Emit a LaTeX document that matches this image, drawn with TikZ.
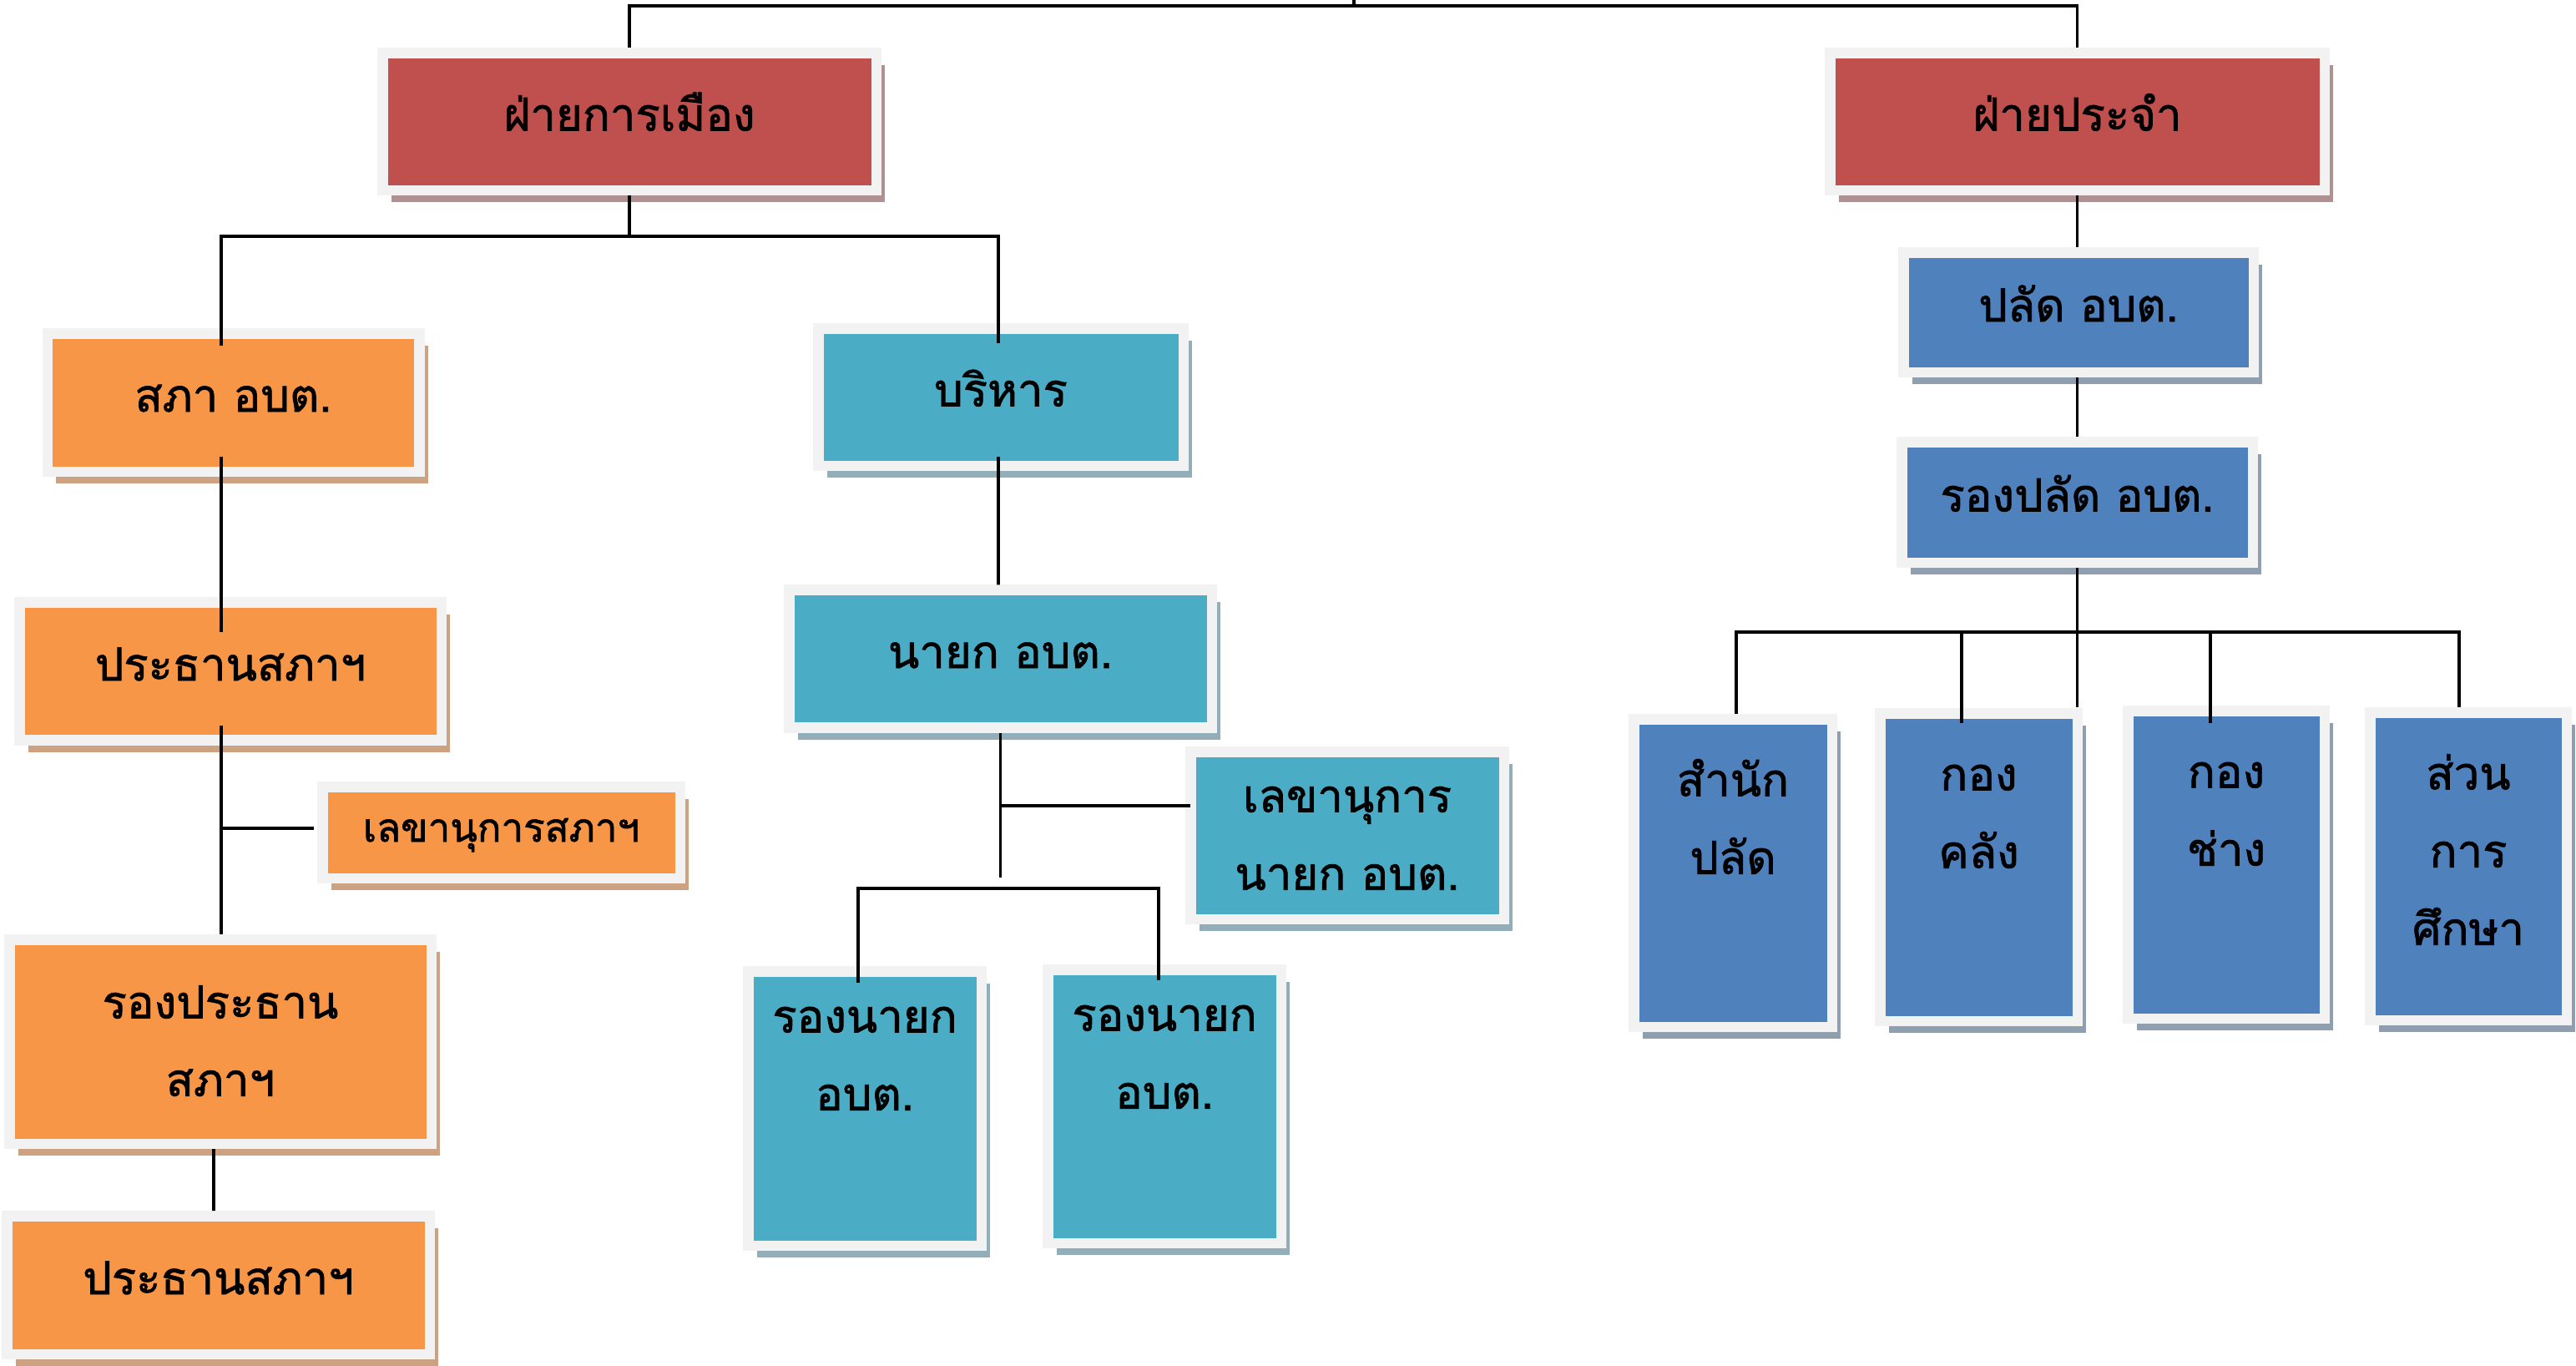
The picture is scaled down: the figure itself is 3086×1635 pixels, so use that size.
\documentclass[tikz,border=0pt]{standalone}
\usepackage{fontspec}
\newfontfamily\thaifont[Script=Thai, FakeBold=1.5]{Loma}
\usetikzlibrary{shadows}

\definecolor{framegray}{HTML}{F2F2F2}
\definecolor{redfill}{HTML}{C0504D}
\definecolor{orangefill}{HTML}{F79646}
\definecolor{tealfill}{HTML}{4BACC6}
\definecolor{bluefill}{HTML}{4F81BD}
\definecolor{redshadow}{HTML}{B09090}
\definecolor{orangeshadow}{HTML}{CDA283}
\definecolor{tealshadow}{HTML}{92AEB8}
\definecolor{blueshadow}{HTML}{909FB0}

% text blocks for the taller boxes
\newcommand{\topLines}[4]{\parbox[c][#1][t]{#2}{\centering\vspace*{#3}\strut #4}}
\newcommand{\midLines}[3]{\parbox[c][#1][c]{#2}{\centering\strut #3\strut}}

\tikzset{
    org_node/.style={rectangle, draw=framegray, line width=1.25mm, inner sep=0pt, font=\thaifont\fontsize{15.5pt}{26.5pt}\selectfont},
    one_line/.style={text height=3.2mm, text depth=1mm},
    red_node/.style={org_node, fill=redfill, drop shadow={shadow xshift=1.025mm, shadow yshift=-1.425mm, fill=redshadow, opacity=1}},
    orange_node/.style={org_node, fill=orangefill, drop shadow={shadow xshift=1.025mm, shadow yshift=-1.425mm, fill=orangeshadow, opacity=1}},
    teal_node/.style={org_node, fill=tealfill, drop shadow={shadow xshift=1.025mm, shadow yshift=-1.425mm, fill=tealshadow, opacity=1}},
    blue_node/.style={org_node, fill=bluefill, drop shadow={shadow xshift=1.025mm, shadow yshift=-1.425mm, fill=blueshadow, opacity=1}},
    line/.style={line width=0.38mm, black},
}

\begin{document}
\begin{tikzpicture}[x=0.1mm, y=-0.1mm]
      \fill [white] (0,0) rectangle (3086,1635);
      \useasboundingbox (0,0) rectangle (3086,1635);

      %%%%%%%%%%%%%
      % Top level %
      %%%%%%%%%%%%%
      \node (polit) [red_node, one_line, minimum width=59.15mm, minimum height=16.45mm] at (754,145.5)
          {ฝ่ายการเมือง};
      \node (perm) [red_node, one_line, minimum width=59.25mm, minimum height=16.45mm] at (2488.5,145.5)
          {ฝ่ายประจำ};

      %%%%%%%%%%%
      % Council %
      %%%%%%%%%%%
      \node (council) [orange_node, one_line, minimum width=44.55mm, minimum height=16.55mm] at (279.5,482)
          {สภา อบต.};
      \node (chair) [orange_node, one_line, minimum width=50.55mm, minimum height=16.5mm] at (276,804)
          {ประธานสภาฯ};
      \node (council_sec) [orange_node, one_line, minimum width=42.85mm, minimum height=10.95mm,
          font=\thaifont\fontsize{13.5pt}{22pt}\selectfont] at (600.5,997)
          {เลขานุการสภาฯ};
      \node (vice_chair) [orange_node, minimum width=50.55mm, minimum height=24.45mm] at (264,1247.5)
          {\midLines{24.45mm}{45mm}{รองประธาน\\สภาฯ}};
      \node (chair_two) [orange_node, one_line, minimum width=50.65mm, minimum height=16.55mm] at (261.5,1539)
          {ประธานสภาฯ};

      %%%%%%%%%%%%%
      % Executive %
      %%%%%%%%%%%%%
      \node (exec) [teal_node, one_line, minimum width=43.75mm, minimum height=16.45mm] at (1199,475.5)
          {บริหาร};
      \node (nayok) [teal_node, one_line, minimum width=50.65mm, minimum height=16.5mm] at (1198.5,789)
          {นายก อบต.};
      \node (nayok_sec) [teal_node, minimum width=37.55mm, minimum height=20.05mm] at (1614,1000.5)
          {\midLines{20.05mm}{34mm}{เลขานุการ\\นายก อบต.}};
      \node (vice_nayok_a) [teal_node, minimum width=27.95mm, minimum height=32.85mm] at (1036,1327.5)
          {\topLines{32.85mm}{26mm}{0.8mm}{รองนายก\\อบต.}};
      \node (vice_nayok_b) [teal_node, minimum width=27.95mm, minimum height=32.75mm] at (1395,1325)
          {\topLines{32.75mm}{26mm}{0.8mm}{รองนายก\\อบต.}};

      %%%%%%%%%%%%%
      % Permanent %
      %%%%%%%%%%%%%
      \node (palad) [blue_node, one_line, minimum width=41.95mm, minimum height=14.35mm] at (2490,374)
          {ปลัด อบต.};
      \node (vice_palad) [blue_node, one_line, minimum width=42.05mm, minimum height=14.45mm] at (2488.5,601.5)
          {รองปลัด อบต.};
      \node (office) [blue_node, minimum width=23.75mm, minimum height=36.85mm] at (2076,1045.5)
          {\topLines{36.85mm}{22mm}{2.7mm}{สำนัก\\ปลัด}};
      \node (finance) [blue_node, minimum width=23.65mm, minimum height=36.85mm] at (2370.5,1038.5)
          {\topLines{36.85mm}{22mm}{2.7mm}{กอง\\คลัง}};
      \node (works) [blue_node, minimum width=23.55mm, minimum height=36.85mm] at (2667,1035.5)
          {\topLines{36.85mm}{22mm}{2.7mm}{กอง\\ช่าง}};
      \node (edu) [blue_node, minimum width=23.55mm, minimum height=36.85mm] at (2957,1037.5)
          {\topLines{36.85mm}{22mm}{2.7mm}{ส่วน\\การ\\ศึกษา}};

      %%%%%%%%%%%%%%
      % Connectors %
      %%%%%%%%%%%%%%
      \coordinate (root) at (1622,0);
      \coordinate (root_bar) at (1622,7);
      \draw [line] (root) -- (root_bar);
      \draw [line] (polit.north) |- (root_bar) -| (perm.north);

      \coordinate (polit_bar) at ([yshift=-4.9mm]polit.south);
      \draw [line] (polit.south) -- (polit_bar);
      \draw [line] ([shift={(-14.5,21)}]council.north) |- (polit_bar) -| ([shift={(-3,24)}]exec.north);

      \coordinate (council_stem) at ([shift={(-14.5,-24)}]council.south);
      \coordinate (chair_stem) at ([shift={(-11,-24)}]chair.south);
      \coordinate (csec_branch) at ([shift={(-4,-5)}]council_sec.west);
      \draw [line] (council_stem) -- ([shift={(-11,42)}]chair.north);
      \draw [line] (chair_stem) -- ([xshift=0.1mm]vice_chair.north);
      \draw [line] (csec_branch) -- (csec_branch -| chair_stem);
      \draw [line] ([xshift=-0.8mm]vice_chair.south) -- ([xshift=-0.55mm]chair_two.north);

      \draw [line] ([shift={(-3,-17)}]exec.south) -- ([xshift=-0.25mm]nayok.north);
      \coordinate (nayok_end) at ([yshift=-17.3mm]nayok.south);
      \coordinate (vnayok_bar) at ([yshift=-1.3mm]nayok_end);
      \coordinate (nsec_branch) at ([shift={(6,-35.5)}]nayok_sec.west);
      \draw [line] (nayok.south) -- (nayok_end);
      \draw [line] (nsec_branch) -- (nsec_branch -| nayok.south);
      \draw [line] ([shift={(-8,20)}]vice_nayok_a.north) |- (vnayok_bar) -| ([shift={(-7,19)}]vice_nayok_b.north);

      \draw [line] (perm.south) -- (perm.south |- palad.north);
      \draw [line] (perm.south |- palad.south) -- (vice_palad.north);
      \coordinate (vpalad_end) at ([yshift=-16.7mm]vice_palad.south);
      \coordinate (vpalad_bar) at ([yshift=-7.7mm]vice_palad.south);
      \coordinate (fin_stem) at ([shift={(-20.5,18)}]finance.north);
      \coordinate (works_stem) at ([shift={(-19,21)}]works.north);
      \draw [line] (vice_palad.south) -- (vpalad_end);
      \draw [line] ([xshift=0.4mm]office.north) |- (vpalad_bar) -| ([xshift=-1.1mm]edu.north);
      \draw [line] (fin_stem) -- (fin_stem |- vpalad_bar);
      \draw [line] (works_stem) -- (works_stem |- vpalad_bar);

\end{tikzpicture}
\end{document}
